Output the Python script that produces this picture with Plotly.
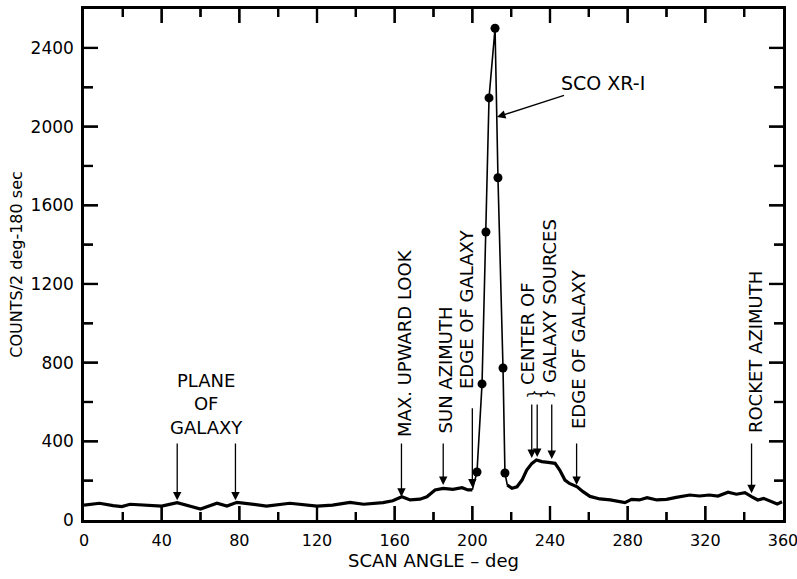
import plotly.graph_objects as go

# ---- data ----
base_deg_a = [0, 8, 15, 19.5, 23.7, 32.4, 40, 48, 53, 60, 68.5, 73.6, 78.8, 87, 94, 106, 113,
              120, 128, 137, 144, 154, 159, 163.7, 168, 173, 176.6, 180.8, 185, 190, 194.7, 197.8, 200]
base_cnt_a = [76, 85, 73, 68, 80, 76, 71, 88, 76, 56, 85, 71, 90, 80, 71, 85, 80,
              71, 76, 90, 80, 88, 98, 118, 102, 106, 118, 153, 161, 156, 164, 153, 153]

base_deg_b = [218, 220.4, 223, 225.6, 228, 230.7, 233, 235.8, 239, 242.6, 245, 247.7, 250, 254,
              257, 260.6, 265.7, 271, 278.6, 282, 286, 290, 295, 300, 305, 312, 317, 322, 326.5,
              331.7, 336, 340.4, 344, 347, 350, 354, 357, 359.5]
base_cnt_b = [178, 161, 169, 203, 254, 288, 305, 297, 293, 288, 254, 203, 186, 169,
              144, 120, 107, 102, 88, 105, 102, 113, 102, 105, 115, 127, 122, 127, 122,
              141, 131, 139, 118, 102, 110, 93, 81, 93]

peak_deg = [202.4, 205.0, 207.0, 208.6, 211.7, 213.2, 215.8, 216.8]
peak_cnt = [244, 692, 1464, 2146, 2500, 1740, 773, 239]

x_ticks = [0, 40, 80, 120, 160, 200, 240, 280, 320, 360]
y_ticks = [0, 400, 800, 1200, 1600, 2000, 2400]
x_range = [0, 360]
y_range = [0, 2598]

# marker annotations: (label, text x, text y, arrow x list, tail y, tip y list)
labels = [
    ("MAX. UPWARD LOOK", 165.3, 900, [163.5], 397, [118]),
    ("SUN AZIMUTH", 186.4, 765, [185.0], 397, [178]),
    ("EDGE OF GALAXY", 197.3, 1073, [200.0], 576, [165]),
    ("EDGE OF GALAXY", 254.4, 869, [253.7], 397, [178]),
    ("ROCKET AZIMUTH", 345.6, 854, [343.8], 397, [136]),
]
center_text = [("CENTER OF", 228.7, 946), ("GALAXY SOURCES", 240.0, 1114)]
center_arrow_deg = [230.6, 233.4, 240.9]
center_arrow_tip = [315, 320, 310]
center_arrow_tail = 595
brace_deg = [232.3, 238.7]
brace_cnt = 640

plane_arrow_deg = [48, 78]
plane_arrow_tip = [100, 100]
plane_arrow_tail = 397
plane_text = ("PLANE<br>OF<br>GALAXY", 63.3, 590)

sco_text = ("SCO XR-I", 267.3, 2222)
sco_tip = (212.7, 2049)

FONT = "DejaVu Sans"
LBL = 18
W, H = 797, 579
M = dict(l=84, r=14, t=9, b=59)

fig = go.Figure()

fig.add_trace(go.Scatter(x=base_deg_a, y=base_cnt_a, mode="lines",
                         line=dict(color="black", width=3.2), showlegend=False))
fig.add_trace(go.Scatter(x=base_deg_b, y=base_cnt_b, mode="lines",
                         line=dict(color="black", width=3.2), showlegend=False))
fig.add_trace(go.Scatter(x=[base_deg_a[-1]] + peak_deg + [base_deg_b[0]],
                         y=[base_cnt_a[-1]] + peak_cnt + [base_cnt_b[0]],
                         mode="lines", line=dict(color="black", width=1.6), showlegend=False))
fig.add_trace(go.Scatter(x=peak_deg, y=peak_cnt, mode="markers",
                         marker=dict(color="black", size=9), showlegend=False))

# inward tick marks on all four sides (major + minor), built from the tick lists
deg_per_px = (x_range[1] - x_range[0]) / (W - M["l"] - M["r"])
cnt_per_px = (y_range[1] - y_range[0]) / (H - M["t"] - M["b"])
x_minor = [(a + b) / 2 for a, b in zip(x_ticks[:-1], x_ticks[1:])]
y_minor = [(a + b) / 2 for a, b in zip(y_ticks[:-1], y_ticks[1:])]
tx, ty, shapes = [], [], []
tick_line = dict(color="black", width=2.2)
for vals, ln in ((x_ticks[1:-1], 14), (x_minor, 8)):
    L = ln * cnt_per_px
    for v in vals:
        tx += [v, v, None, v, v, None]
        ty += [y_range[0], y_range[0] + L, None, y_range[1], y_range[1] - L, None]
        shapes.append(dict(type="line", xref="x", yref="y", x0=v, x1=v,
                           y0=y_range[0], y1=y_range[0] + L, line=tick_line, layer="above"))
        shapes.append(dict(type="line", xref="x", yref="y", x0=v, x1=v,
                           y0=y_range[1], y1=y_range[1] - L, line=tick_line, layer="above"))
for vals, ln in ((y_ticks[1:], 14), (y_minor, 9)):
    L = ln * deg_per_px
    for v in vals:
        tx += [x_range[0], x_range[0] + L, None, x_range[1], x_range[1] - L, None]
        ty += [v, v, None, v, v, None]
        shapes.append(dict(type="line", xref="x", yref="y", y0=v, y1=v,
                           x0=x_range[0], x1=x_range[0] + L, line=tick_line, layer="above"))
        shapes.append(dict(type="line", xref="x", yref="y", y0=v, y1=v,
                           x0=x_range[1], x1=x_range[1] - L, line=tick_line, layer="above"))
fig.add_trace(go.Scatter(x=tx, y=ty, mode="lines", line=dict(color="black", width=2.2),
                         connectgaps=False, hoverinfo="skip", showlegend=False))

ann = []
arrow_style = dict(showarrow=True, arrowhead=2, arrowsize=1.3, arrowwidth=1.3,
                   arrowcolor="black", axref="x", ayref="y", xref="x", yref="y", text="")

for text, lx, ly, axs, tail, tips in labels:
    ann.append(dict(x=lx, y=ly, xref="x", yref="y", text=text, showarrow=False,
                    textangle=-90, font=dict(family=FONT, size=LBL, color="black")))
    for a, tip in zip(axs, tips):
        ann.append(dict(x=a, y=tip, ax=a, ay=tail, **arrow_style))

for text, lx, ly in center_text:
    ann.append(dict(x=lx, y=ly, xref="x", yref="y", text=text, showarrow=False,
                    textangle=-90, font=dict(family=FONT, size=LBL, color="black")))
for a, tip in zip(center_arrow_deg, center_arrow_tip):
    ann.append(dict(x=a, y=tip, ax=a, ay=center_arrow_tail, **arrow_style))
for b in brace_deg:
    ann.append(dict(x=b, y=brace_cnt, xref="x", yref="y", text="{", showarrow=False,
                    textangle=90, font=dict(family=FONT, size=15, color="black")))

ann.append(dict(x=plane_text[1], y=plane_text[2], xref="x", yref="y", text=plane_text[0],
                showarrow=False, font=dict(family=FONT, size=LBL, color="black")))
for a, tip in zip(plane_arrow_deg, plane_arrow_tip):
    ann.append(dict(x=a, y=tip, ax=a, ay=plane_arrow_tail, **arrow_style))

ann.append(dict(x=sco_tip[0], y=sco_tip[1], ax=sco_text[1], ay=sco_text[2], text=sco_text[0],
                xref="x", yref="y", axref="x", ayref="y", showarrow=True, arrowhead=2,
                arrowsize=1.3, arrowwidth=1.3, arrowcolor="black",
                font=dict(family=FONT, size=19, color="black")))

fig.update_layout(
    width=W, height=H,
    margin=dict(**M, autoexpand=False),
    plot_bgcolor="white", paper_bgcolor="white",
    font=dict(family=FONT, size=17, color="black"),
    annotations=ann, shapes=shapes,
)
fig.update_xaxes(range=x_range, tickmode="array", tickvals=x_ticks,
                 ticktext=[str(v) for v in x_ticks],
                 ticks="outside", ticklen=4, tickcolor="rgba(0,0,0,0)",
                 ticklabeloverflow="allow",
                 showline=True, linewidth=2.5, linecolor="black", mirror=True,
                 showgrid=False, zeroline=False,
                 title=dict(text="SCAN ANGLE – deg", font=dict(family=FONT, size=18), standoff=6),
                 tickfont=dict(family=FONT, size=16))
fig.update_yaxes(range=y_range, tickmode="array", tickvals=y_ticks,
                 ticktext=[str(v) for v in y_ticks],
                 ticks="outside", ticklen=4, tickcolor="rgba(0,0,0,0)",
                 showline=True, linewidth=2.5, linecolor="black", mirror=True,
                 showgrid=False, zeroline=False,
                 title=dict(text="COUNTS/2 deg-180 sec", font=dict(family=FONT, size=16), standoff=4),
                 tickfont=dict(family=FONT, size=17))

# remove the page's default 8px body margin so the figure fills the window exactly
fig.write_html("out.html", config={"displayModeBar": False},
               post_script="document.body.style.margin='0';")
